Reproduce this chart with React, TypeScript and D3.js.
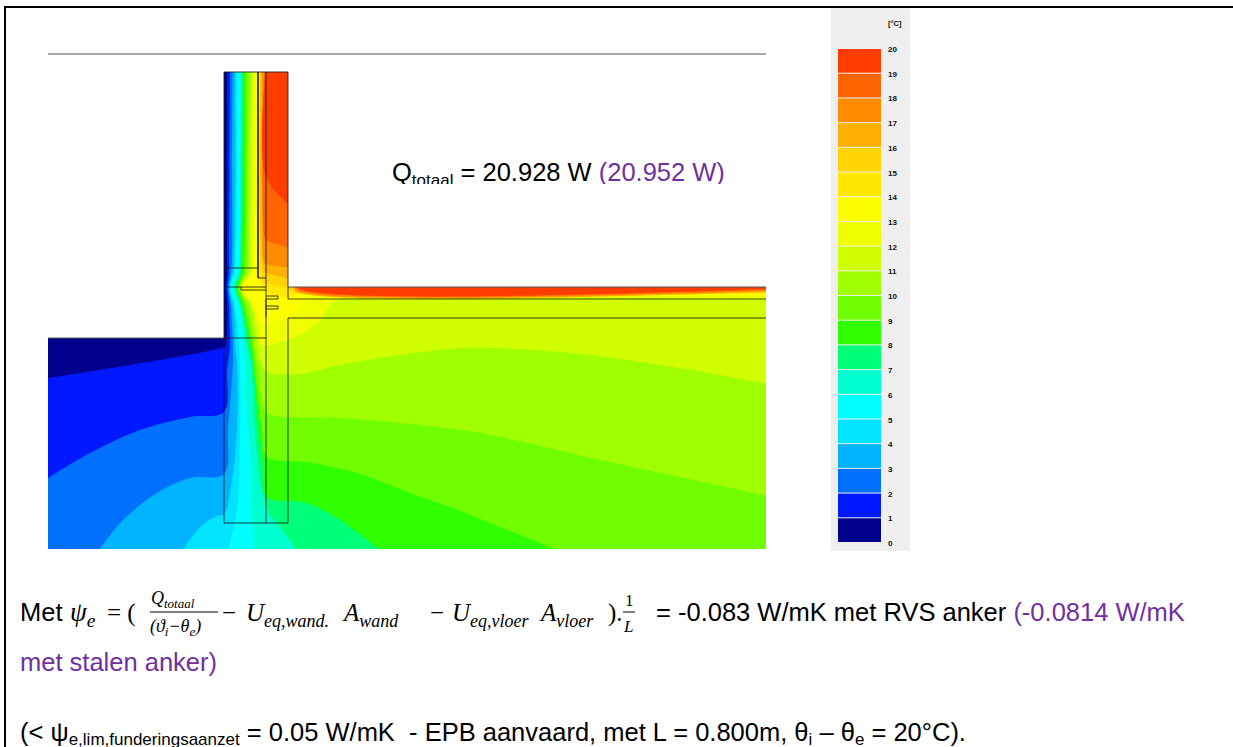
import * as d3 from "d3";

type Pt = [number, number];

// legend
const legendTicks = d3.range(0, 21);
const bandColors = [
  "#00008c", "#0018ff", "#0070ff", "#00b4ff", "#00e4ff", "#00ffff", "#00ffd0",
  "#00ff78", "#30ff00", "#70ff00", "#a0ff00", "#d0ff00", "#f0ff00", "#ffff00",
  "#ffe800", "#ffd400", "#ffb000", "#ff8c00", "#ff6400", "#ff3c00",
];

// isotherms, model grid units, from the top of the wall towards the ground / floor
const iso1: Pt[] = [[179.3, 18], [179, 116], [179, 201], [179, 218], [178, 234], [179, 251], [179, 271], [178, 291], [176, 293], [0, 324]];
const iso2: Pt[] = [[182, 18], [181.5, 116], [181, 201], [181, 218], [179.5, 234], [181, 251], [181.5, 271], [182, 291], [179, 316], [176, 358], [142, 363], [92, 376], [42, 399], [0, 424]];
const iso3: Pt[] = [[184.7, 18], [184, 116], [184, 201], [183, 218], [180.5, 234], [183, 251], [184, 271], [185, 291], [185, 309], [180, 376], [176, 420], [142, 424], [109, 439], [75, 466], [51, 496]];
const iso4: Pt[] = [[187, 18], [187, 116], [186, 201], [185, 218], [181.5, 234], [185, 251], [187, 271], [187, 291], [189, 309], [189, 376], [184, 426], [176, 460], [169, 462], [152, 473], [135, 496]];
const iso5: Pt[] = [[189, 18], [189, 116], [188, 201], [186.5, 218], [182.5, 234], [187, 251], [189.5, 271], [191, 291], [192, 309], [192, 376], [189, 456], [180, 496]];
const iso6: Pt[] = [[192, 18], [192, 116], [191, 201], [190, 218], [186, 234], [191, 251], [194, 271], [196, 291], [197, 309], [198, 343], [203, 409], [204, 463], [206, 496]];
const iso7: Pt[] = [[193.7, 18], [193.5, 116], [192.5, 201], [192, 218], [187, 234], [192.5, 251], [196, 271], [199, 291], [203, 309], [207, 376], [212, 426], [222, 461], [232, 473], [249, 496]];
const iso8: Pt[] = [[195.3, 18], [195, 116], [194, 201], [193.5, 218], [188.5, 234], [194, 251], [198, 271], [202, 291], [205, 309], [210, 363], [215, 409], [219, 443], [259, 449], [292, 466], [332, 496]];
const iso9: Pt[] = [[198, 18], [197.5, 116], [196.5, 201], [195.5, 218], [190, 234], [196, 251], [200, 271], [204, 291], [209, 336], [214, 376], [219, 403], [259, 408], [309, 419], [362, 439], [402, 453], [472, 481], [509, 496]];
const iso10: Pt[] = [[201, 18], [200, 116], [199, 201], [198, 218], [191.5, 234], [199, 251], [203, 271], [206, 291], [210, 316], [214, 346], [219, 359], [292, 364], [352, 369], [432, 379], [552, 406], [632, 423], [719, 442]];
const iso11: Pt[] = [[203, 18], [202.5, 116], [201.5, 201], [201, 218], [192.5, 234], [202, 251], [206, 271], [209, 291], [213, 309], [219, 318], [252, 320], [292, 311], [352, 301], [418, 294], [512, 298], [632, 314], [719, 330]];
const iso12: Pt[] = [[205, 18], [204.5, 116], [204, 201], [203, 218], [193, 234], [204, 251], [210, 271], [214, 291], [232, 288], [252, 281], [272, 266], [287, 246], [297, 244.5], [719, 244.5]];
const iso13: Pt[] = [[207.7, 18], [207, 116], [206.5, 201], [205.5, 218], [193.5, 234], [207, 251], [214, 271], [224, 268], [248, 259], [257, 246], [274, 241.5], [719, 241.5]];
const iso14: Pt[] = [[210.5, 18], [210.5, 216], [214, 234], [218, 238], [240, 243], [250, 240], [719, 240]];
const iso15: Pt[] = [[212, 18], [212, 201], [215, 228], [218, 229], [240, 235], [248, 239], [719, 239]];
const iso16: Pt[] = [[213, 18], [213, 186], [216, 216], [218, 219], [240, 225], [245, 231], [249, 238], [719, 238]];
const iso17: Pt[] = [[214.6, 18], [214.6, 176], [216, 208], [218, 210], [240, 214], [245, 218], [245, 230], [249, 237], [719, 237]];
const iso18: Pt[] = [[216, 18], [216, 181], [218, 186], [240, 194], [245, 200], [245, 228], [252, 236], [719, 236]];
const iso19: Pt[] = [[217.5, 18], [217.5, 122], [240, 151], [245, 160], [245, 226], [252, 235], [719, 235]];
const isotherms = [iso1, iso2, iso3, iso4, iso5, iso6, iso7, iso8, iso9, iso10, iso11, iso12, iso13, iso14, iso15, iso16, iso17, iso18, iso19];

// construction
const section: Pt[] = [[0, 284], [176, 284], [176, 18], [240, 18], [240, 233], [718, 233], [718, 495], [0, 495]];
const detailLines: Pt[][] = [
  [[176, 18], [176, 469], [240, 469], [240, 264], [718, 264]],
  [[218, 18], [218, 469]],
  [[210, 18], [210, 224], [218, 224]],
  [[240, 18], [240, 245]],
  [[176, 18], [240, 18]],
  [[176, 214], [210, 214]],
  [[179, 233], [218, 233]],
  [[193, 233], [193, 236], [218, 236]],
  [[176, 284], [218, 284]],
  [[218, 242], [230, 242], [230, 245], [218, 245]],
  [[218, 252], [230, 252], [230, 255], [218, 255]],
  [[218, 245], [218, 263]],
];
const floorBond: Pt[] = [[240, 245], [718, 245]];
const surfaces: Pt[][] = [[[0, 0], [718, 0]], [[0, 284], [176, 284]], [[240, 233], [718, 233]]];

const x = d3.scaleLinear().domain([0, 718]).range([48, 766]);
const y = d3.scaleLinear().domain([0, 495]).range([54, 549]);
const legendY = d3.scaleLinear().domain([0, 20]).range([543, 49]);

const smooth = d3.line<Pt>().x((d) => x(d[0])).y((d) => y(d[1])).curve(d3.curveCatmullRom.alpha(0.5));
const straight = d3.line<Pt>().x((d) => x(d[0])).y((d) => y(d[1]));

// region warmer than an isotherm: close it round the warm corner
function warmSide(points: Pt[]) {
  const last = points[points.length - 1];
  const tail: Pt[] = [];
  if (last[0] < 718) {
    tail.push([last[0], 520], [740, 520]);
  } else {
    tail.push([740, last[1]]);
  }
  tail.push([740, 5], [points[0][0], 5]);
  return smooth(points) + "L" + tail.map((d) => `${x(d[0])},${y(d[1])}`).join("L") + "Z";
}

const sans = "'Liberation Sans', Arial, sans-serif";
const math = "'Liberation Serif', serif";
const purple = "#7030a0";
const textSize = 25.5;

function Math1({ px, py, size = 25, sub, children }: any) {
  return (
    <text x={px} y={py} fontFamily={math} fontStyle="italic" fontSize={size}>
      {children}
      {sub ? <tspan fontSize={size * 0.72} dy={size * 0.22}>{sub}</tspan> : null}
    </text>
  );
}

export default function App() {
  return (
    <svg
      width={1233}
      height={747}
      style={{ position: "absolute", left: 0, top: 0, background: "#fff" }}
    >
      <defs>
        <clipPath id="section">
          <path d={straight(section) + "Z"} />
        </clipPath>
        <clipPath id="qline">
          <rect x={380} y={150} width={380} height={34} />
        </clipPath>
      </defs>

      <path d="M1233,7H5V747" fill="none" stroke="#000" strokeWidth={2} />

      {/* temperature field */}
      <g clipPath="url(#section)">
        <rect x={x(0)} y={y(0)} width={718} height={495} fill={bandColors[0]} />
        {isotherms.map((iso, i) => (
          <path key={i} d={warmSide(iso)} fill={bandColors[i + 1]} />
        ))}
      </g>

      {surfaces.map((s, i) => (
        <path key={i} d={straight(s) ?? ""} fill="none" stroke="#555" strokeWidth={1.2} />
      ))}
      <path d={straight(floorBond) ?? ""} fill="none" stroke="#000" strokeOpacity={0.45} strokeWidth={1.5} />
      {detailLines.map((s, i) => (
        <path key={i} d={straight(s) ?? ""} fill="none" stroke="#1a1a1a" strokeOpacity={0.85} strokeWidth={1} />
      ))}
      <path d={`M${x(210)},${y(18)}V${y(224)}`} stroke="#000" strokeOpacity={0.5} strokeWidth={2} />

      <text clipPath="url(#qline)" x={392} y={181} fontFamily={sans} fontSize={textSize} fill="#000">
        Q<tspan fontSize={17} dy={5}>totaal</tspan>
        <tspan dy={-5}> = 20.928 W </tspan>
        <tspan fill={purple}>(20.952 W)</tspan>
      </text>

      {/* legend */}
      <rect x={831} y={8} width={79} height={543} fill="#efefef" />
      {bandColors.map((c, i) => (
        <rect
          key={i}
          x={838}
          y={legendY(i + 1)}
          width={43}
          height={legendY(i) - legendY(i + 1) - 1}
          fill={c}
        />
      ))}
      {legendTicks.map((t) => (
        <text key={t} x={888} y={legendY(t) + 3} fontFamily={sans} fontSize={8} fontWeight="bold" fill="#111">
          {t}
        </text>
      ))}
      <text x={888} y={26} fontFamily={sans} fontSize={7.5} fontWeight="bold" fill="#111">[°C]</text>

      {/* formula */}
      <text x={20} y={621} fontFamily={sans} fontSize={textSize}>Met</text>
      <Math1 px={70} py={621} size={27} sub="e">ψ</Math1>
      <text x={107} y={621} fontFamily={math} fontSize={25}>= (</text>
      <Math1 px={151} py={604} size={18} sub="totaal">Q</Math1>
      <path d="M150,612H218" stroke="#000" strokeWidth={1} />
      <text x={150} y={632} fontFamily={math} fontStyle="italic" fontSize={18}>
        (ϑ<tspan fontSize={13} dy={4}>i</tspan><tspan dy={-4}>−θ</tspan><tspan fontSize={13} dy={4}>e</tspan><tspan dy={-4}>)</tspan>
      </text>
      <text x={222} y={621} fontFamily={math} fontSize={25}>−</text>
      <Math1 px={246} py={621} sub="eq,wand.">U</Math1>
      <Math1 px={344} py={621} sub="wand">A</Math1>
      <text x={430} y={621} fontFamily={math} fontSize={25}>−</text>
      <Math1 px={452} py={621} sub="eq,vloer">U</Math1>
      <Math1 px={541} py={621} sub="vloer">A</Math1>
      <text x={608} y={621} fontFamily={math} fontSize={25}>).</text>
      <text x={625} y={606} fontFamily={math} fontSize={17}>1</text>
      <path d="M623,612H635" stroke="#000" strokeWidth={1} />
      <text x={624} y={632} fontFamily={math} fontStyle="italic" fontSize={17}>L</text>

      <text x={656} y={621} fontFamily={sans} fontSize={textSize}>
        = -0.083 W/mK met RVS anker <tspan fill={purple}>(-0.0814 W/mK</tspan>
      </text>
      <text x={20} y={671} fontFamily={sans} fontSize={textSize} fill={purple}>met stalen anker)</text>

      <text x={20} y={741} fontFamily={sans} fontSize={textSize} style={{ whiteSpace: "pre" }}>
        {"(< ψ"}
        <tspan fontSize={17} dy={4}>e,lim,funderingsaanzet</tspan>
        <tspan dy={-4}>{" = 0.05 W/mK  - EPB aanvaard, met L = 0.800m, θ"}</tspan>
        <tspan fontSize={17} dy={4}>i</tspan>
        <tspan dy={-4}>{" – θ"}</tspan>
        <tspan fontSize={17} dy={4}>e</tspan>
        <tspan dy={-4}>{" = 20°C)."}</tspan>
      </text>
    </svg>
  );
}
